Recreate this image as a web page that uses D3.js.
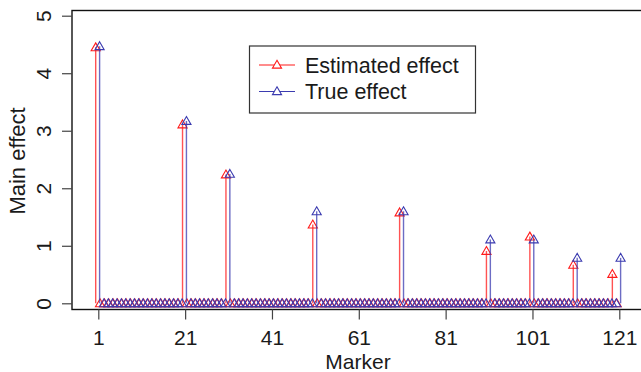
<!DOCTYPE html>
<html>
<head>
<meta charset="utf-8">
<script src="https://cdn.jsdelivr.net/npm/d3@7/dist/d3.min.js"></script>
<style>
  html, body { margin: 0; padding: 0; background: #fff; }
  svg { display: block; font-family: "Liberation Sans", Arial, Helvetica, sans-serif; }
</style>
</head>
<body>
<svg id="chart" width="641" height="372"></svg>
<script>
// Marker positions along the genome
const markerFirst = 1;
const markerLast = 121;

// Markers with a non-zero effect; every other marker is zero
const estimatedMarkers = [1, 21, 31, 51, 71, 91, 101, 111, 120];
const estimatedValues  = [4.45, 3.11, 2.24, 1.37, 1.58, 0.91, 1.16, 0.67, 0.51];
const trueMarkers      = [1, 21, 31, 51, 71, 91, 101, 111, 121];
const trueValues       = [4.47, 3.17, 2.25, 1.60, 1.60, 1.11, 1.11, 0.79, 0.79];

const xTicks = [1, 21, 41, 61, 81, 101, 121];
const yTicks = [0, 1, 2, 3, 4, 5];

const seriesNames = ["Estimated effect", "True effect"];
const seriesColors = ["#ff1a1a", "#3b3bb0"];
const seriesShift = [-0.6, 0.3]; // small horizontal offset so both spikes are visible

const FS = 21;

// Build full per-marker series (zeros except the listed markers)
function fullSeries(ms, vs) {
  const lookup = new Map(ms.map((m, i) => [m, vs[i]]));
  const out = [];
  for (let m = markerFirst; m <= markerLast; m++) out.push({ m, v: lookup.get(m) || 0 });
  return out;
}
const series = [
  fullSeries(estimatedMarkers, estimatedValues),
  fullSeries(trueMarkers, trueValues)
];

const svg = d3.select("#chart");

const box = { left: 72, top: 10.5, bottom: 309.5, right: 660 };
const x = d3.scaleLinear().domain([1, 121]).range([98.3, 619.3]);
const y = d3.scaleLinear().domain([0, 5]).range([303.3, 15.7]);

// Plot frame (right edge falls outside the canvas)
svg.append("rect")
  .attr("x", box.left).attr("y", box.top)
  .attr("width", box.right - box.left).attr("height", box.bottom - box.top)
  .attr("fill", "none").attr("stroke", "#111").attr("stroke-width", 1.4);

// X axis
const xAxis = svg.append("g")
  .attr("transform", `translate(0,${box.bottom})`)
  .call(d3.axisBottom(x).tickValues(xTicks).tickSize(10).tickPadding(0).tickFormat(d3.format("d")));
xAxis.select(".domain").remove();
xAxis.selectAll(".tick line").attr("stroke", "#444").attr("stroke-width", 1.2);
xAxis.selectAll(".tick text")
  .attr("y", 35.5).attr("dy", null)
  .attr("font-size", FS).attr("fill", "#1a1a1a")
  .attr("font-family", "Liberation Sans, Arial, sans-serif");

// Y axis with rotated labels
const yAxis = svg.append("g")
  .attr("transform", `translate(${box.left},0)`)
  .call(d3.axisLeft(y).tickValues(yTicks).tickSize(10).tickFormat(d3.format("d")));
yAxis.select(".domain").remove();
yAxis.selectAll(".tick line").attr("stroke", "#444").attr("stroke-width", 1.2);
yAxis.selectAll(".tick text")
  .attr("x", null).attr("dy", null)
  .attr("text-anchor", "middle")
  .attr("transform", "translate(-21.5,0) rotate(-90)")
  .attr("font-size", FS).attr("fill", "#1a1a1a")
  .attr("font-family", "Liberation Sans, Arial, sans-serif");

// Axis titles
svg.append("text")
  .attr("x", 358).attr("y", 369)
  .attr("text-anchor", "middle").attr("font-size", FS).attr("fill", "#1a1a1a")
  .text("Marker");
svg.append("text")
  .attr("transform", "translate(25,161) rotate(-90)")
  .attr("text-anchor", "middle").attr("font-size", 22).attr("fill", "#1a1a1a")
  .text("Main effect");

// Open triangle symbol (pch 2 style)
const tri = d3.symbol().type(d3.symbolTriangle).size(36);

series.forEach((data, si) => {
  const g = svg.append("g");
  const col = seriesColors[si];
  const px = d => x(d.m + seriesShift[si]);
  // spikes
  g.selectAll("line.spike")
    .data(data.filter(d => d.v !== 0))
    .join("line")
    .attr("class", "spike")
    .attr("x1", px).attr("x2", px)
    .attr("y1", y(0)).attr("y2", d => y(d.v))
    .attr("stroke", col).attr("stroke-width", 1.4).attr("stroke-opacity", 0.75);
  // points
  g.selectAll("path.pt")
    .data(data)
    .join("path")
    .attr("class", "pt")
    .attr("d", tri)
    .attr("transform", d => `translate(${px(d)},${y(d.v) + 0.8})`)
    .attr("fill", "none").attr("stroke", col).attr("stroke-width", 1.1);
});

// Legend
const legend = svg.append("g");
legend.append("rect")
  .attr("x", 249.5).attr("y", 46).attr("width", 226).attr("height", 67)
  .attr("fill", "#fff").attr("stroke", "#333").attr("stroke-width", 1.2);
seriesNames.forEach((name, i) => {
  const ry = 65 + i * 26.5;
  legend.append("line")
    .attr("x1", 259).attr("x2", 295).attr("y1", ry).attr("y2", ry)
    .attr("stroke", seriesColors[i]).attr("stroke-width", 1.2);
  legend.append("path")
    .attr("d", tri)
    .attr("transform", `translate(277,${ry + 0.5})`)
    .attr("fill", "#fff").attr("stroke", seriesColors[i]).attr("stroke-width", 1.1);
  legend.append("text")
    .attr("x", 305).attr("y", ry + 7.5)
    .attr("font-size", 21.5).attr("fill", "#1a1a1a")
    .text(name);
});
</script>
</body>
</html>
